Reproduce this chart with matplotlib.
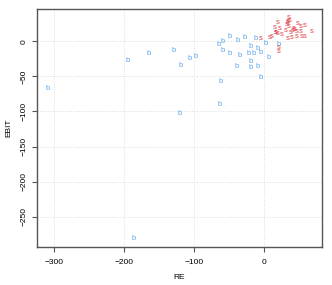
import matplotlib
matplotlib.use("Agg")
import matplotlib.pyplot as plt

b_re = [-309.4, -186.4, -195.0, -165.0, -129.2, -119.2, -120.5, -106.3, -98.1,
        -65.2, -58.7, -49.1, -59.5, -38.1, -28.0, -11.9, 2.9, -19.0, -9.4,
        -49.5, -35.2, -21.5, -14.3, -4.7, 6.7, -18.6, -39.5, -19.5, -9.0,
        -4.3, -61.9, -63.4, 20.6]
b_ebit = [-67.6, -280.4, -27.6, -17.6, -13.3, -34.3, -103.3, -24.3, -21.4,
          -4.3, -0.4, 6.3, -12.9, 1.4, 5.7, 3.9, -3.7, -7.6, -10.0,
          -17.6, -20.0, -17.6, -18.0, -16.6, -22.9, -29.4, -36.6, -37.1, -36.6,
          -50.9, -57.1, -90.4, -4.3]

s_re = [-4.3, 8.2, 11.4, 16.7, 16.3, 19.6, 17.2, 20.6, 25.3, 31.0, 32.5, 33.9,
        35.8, 37.2, 35.3, 38.6, 41.1, 43.9, 46.8, 48.6, 52.9, 58.2, 53.5, 54.4,
        59.2, 68.2, 34.3, 40.1, 46.8, 21.5, 21.5, 23.5, 43.5, 34.9]
s_ebit = [3.9, 5.7, 6.3, 12.9, 20.0, 27.1, 12.4, 11.4, 10.0, 15.7, 23.4, 26.3,
          33.4, 29.6, 20.6, 12.0, 15.7, 16.7, 13.9, 24.9, 20.6, 22.9, 14.3, 7.1,
          6.3, 13.9, 3.4, 5.7, 6.3, -8.6, -14.7, 18.1, 18.6, 28.6]

xticks = [-300, -200, -100, 0]
yticks = [0, -50, -100, -150, -200, -250]

plt.rcParams['font.family'] = ['Liberation Sans', 'DejaVu Sans']

fig = plt.figure(figsize=(3.32, 2.85), dpi=100)
ax = fig.add_axes([37/332, 38/285, 285/332, 238/285])

allx = b_re + s_re
ally = b_ebit + s_ebit
rx = max(allx) - min(allx)
ry = max(ally) - min(ally)
ax.set_xlim(min(allx) - 0.04*rx, max(allx) + 0.04*rx)
ax.set_ylim(min(ally) - 0.04*ry, max(ally) + 0.04*ry)

for x, y in zip(b_re, b_ebit):
    ax.text(x, y, "b", color="#4a9be8", fontsize=5.5, ha="center", va="center", alpha=0.9)
for x, y in zip(s_re, s_ebit):
    ax.text(x, y, "s", color="#d8262f", fontsize=5.5, ha="center", va="center", alpha=0.85)

ax.set_xticks(xticks)
ax.set_yticks(yticks)
ax.set_xticklabels([str(v).replace('-', '\u2212') for v in xticks], fontsize=6)
ax.set_yticklabels([str(v).replace('-', '\u2212') for v in yticks], fontsize=6,
                   rotation=90, va="center")
ax.tick_params(axis='both', direction='out', length=3.5, width=0.8, color='#555555')
ax.tick_params(axis='x', pad=5)
ax.tick_params(axis='y', pad=3)
ax.grid(True, linestyle=':', color='#dddddd', linewidth=0.7)
ax.set_axisbelow(True)
for sp in ax.spines.values():
    sp.set_color('#555555')
    sp.set_linewidth(1.0)

ax.set_xlabel("RE", fontsize=6, labelpad=6)
ax.set_ylabel("EBIT", fontsize=6, labelpad=6)

fig.savefig("out.png", dpi=100)
